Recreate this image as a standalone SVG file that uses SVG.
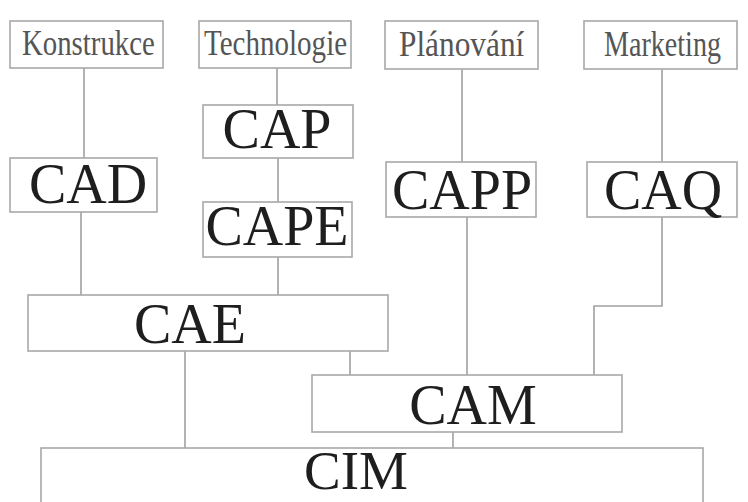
<svg xmlns="http://www.w3.org/2000/svg" width="748" height="502" viewBox="0 0 748 502">
<style>
rect{fill:#fff;stroke:#a8a8a8;stroke-width:1.6}
.c line,.c polyline{stroke:#a0a0a0;stroke-width:1.6;fill:none}
.s{font-family:"Liberation Serif",serif;font-size:36px;fill:#555}
.b{font-family:"Liberation Serif",serif;font-size:56px;fill:#1e1e1e;text-anchor:middle}
</style>
<rect x="0" y="0" width="748" height="502" style="stroke:none"/>
<g class="c">
<line x1="84" y1="68" x2="84" y2="158"/>
<line x1="81" y1="212" x2="81" y2="295"/>
<line x1="277" y1="68" x2="277" y2="105"/>
<line x1="278" y1="158" x2="278" y2="202"/>
<line x1="278" y1="257" x2="278" y2="295"/>
<line x1="462" y1="69" x2="462" y2="162"/>
<line x1="467" y1="217" x2="467" y2="375"/>
<line x1="662" y1="69" x2="662" y2="162"/>
<polyline points="662,217 662,306 594,306 594,375"/>
<line x1="185" y1="351" x2="185" y2="448"/>
<line x1="350" y1="351" x2="350" y2="375"/>
<line x1="453" y1="432" x2="453" y2="448"/>
</g>
<g id="konstrukce"><rect x="10" y="21" width="153" height="47"/><text class="s" transform="translate(22,55) scale(0.8,1)" x="0" y="0" textLength="166" lengthAdjust="spacingAndGlyphs">Konstrukce</text></g>
<g id="technologie"><rect x="199" y="21" width="152" height="47"/><text class="s" transform="translate(204,55) scale(0.795,1)" x="0" y="0" textLength="180" lengthAdjust="spacingAndGlyphs">Technologie</text></g>
<g id="planovani"><rect x="385" y="21" width="153" height="48"/><text class="s" transform="translate(399,56) scale(0.87,1)" x="0" y="0" textLength="144" lengthAdjust="spacingAndGlyphs">Plánování</text></g>
<g id="marketing"><rect x="584" y="21" width="153" height="48"/><text class="s" transform="translate(604,56) scale(0.78,1)" x="0" y="0" textLength="150" lengthAdjust="spacingAndGlyphs">Marketing</text></g>
<g id="cap"><rect x="203" y="105" width="150" height="53"/><text class="b" x="277" y="148">CAP</text></g>
<g id="cad"><rect x="10" y="158" width="147" height="54"/><text class="b" x="88" y="203">CAD</text></g>
<g id="cape"><rect x="203" y="202" width="149" height="55"/><text class="b" x="277" y="245">CAPE</text></g>
<g id="capp"><rect x="386" y="162" width="150" height="55"/><text class="b" x="462" y="209">CAPP</text></g>
<g id="caq"><rect x="587" y="162" width="150" height="55"/><text class="b" x="663" y="209">CAQ</text></g>
<g id="cae"><rect x="28" y="295" width="360" height="56"/><text class="b" x="190" y="343">CAE</text></g>
<g id="cam"><rect x="312" y="375" width="310" height="57"/><text class="b" x="473" y="424">CAM</text></g>
<g id="cim"><rect x="41" y="448" width="662" height="60"/><text class="b" x="356" y="489" style="font-size:55px">CIM</text></g>
</svg>
